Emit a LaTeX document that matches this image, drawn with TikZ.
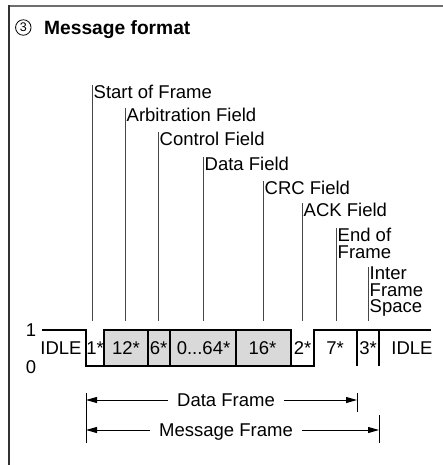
\documentclass[tikz,border=0pt]{standalone}
\usepackage{fontspec}
\setmainfont{Liberation Sans}
\usetikzlibrary{arrows.meta}
\begin{document}
\begin{tikzpicture}[x=1pt, y=-1pt,
    leader/.style={draw=myleader, line width=1pt},
    fieldlbl/.style={anchor=north west, inner xsep=1.5pt, inner ysep=0pt, align=left,
        font=\fontsize{18.5}{16.5}\selectfont},
    bitlbl/.style={inner sep=0pt, text height=13.2pt, text depth=0pt,
        font=\fontsize{18.5}{18.5}\selectfont},
    sig/.style={line width=1.3pt},
    spanarrow/.style={-{Triangle[length=11pt,width=6pt]}, line width=1pt},
    framelbl/.style={inner xsep=9pt, text height=13.2pt, text depth=0pt,
        font=\fontsize{18.5}{18.5}\selectfont}]
    \definecolor{myleader}{RGB}{70,70,70}
    \definecolor{mytop}{RGB}{110,110,110}
    \definecolor{myside}{RGB}{50,50,50}
    \definecolor{myfield}{RGB}{217,217,217}

    \useasboundingbox (0,0) rectangle (443,465);

    % frame
    \draw[mytop, line width=2pt] (9,6) -- (443,6);
    \draw[myside, line width=1.6pt] (9,5) -- (9,465);

    % title
    \node[circle, draw, line width=0.8pt, minimum size=15.5pt, inner sep=0pt,
        font=\fontsize{12.5}{12.5}\selectfont] (num) at (23.3,27.5) {3};
    \node[anchor=base west, inner sep=0pt, font=\bfseries\fontsize{19.2}{19.2}\selectfont]
        (title) at (44,34.3) {Message format};

    % field names
    \coordinate (base) at (0,321);
    \node[fieldlbl] (sof) at (92,85) {Start of Frame};
    \node[fieldlbl] (arb) at (125,108) {Arbitration Field};
    \node[fieldlbl] (ctl) at (158,132) {Control Field};
    \node[fieldlbl] (dat) at (203,157) {Data Field};
    \node[fieldlbl] (crc) at (263,181) {CRC Field};
    \node[fieldlbl] (ack) at (302,203) {ACK Field};
    \node[fieldlbl] (eof) at (336,228) {End of\\Frame};
    \node[fieldlbl] (ifs) at (368,267) {Inter\\Frame\\Space};

    \draw[leader] (sof.north west) -- (sof.north west |- base);
    \draw[leader] (arb.north west) -- (arb.north west |- base);
    \draw[leader] (ctl.north west) -- (ctl.north west |- base);
    \draw[leader] (dat.north west) -- (dat.north west |- base);
    \draw[leader] (crc.north west) -- (crc.north west |- base);
    \draw[leader] (ack.north west) -- (ack.north west |- base);
    \draw[leader] (eof.north west) -- (eof.north west |- base);
    \draw[leader] (ifs.north west) -- (ifs.north west |- base);

    % bit stream
    \filldraw[sig, fill=myfield] (104,330) rectangle (291,366);
    \draw[sig] (42,330) -- (86,330) -- (86,366) -- (314,366) -- (314,330) -- (431,330);
    \draw[sig] (148,330) -- (148,366);
    \draw[sig] (170,330) -- (170,366);
    \draw[sig] (236,330) -- (236,366);
    \draw[sig] (357,330) -- (357,366);
    \draw[sig] (379,330) -- (379,366);

    \node[bitlbl] (one) at (31,330) {1};
    \node[bitlbl] (zero) at (31,367) {0};
    \node[bitlbl] (idlea) at (61,348) {IDLE};
    \node[bitlbl] (bsof) at (95,348) {1*};
    \node[bitlbl] (barb) at (126,348) {12*};
    \node[bitlbl] (bctl) at (158.5,348) {6*};
    \node[bitlbl] (bdat) at (203.5,348) {0...64*};
    \node[bitlbl] (bcrc) at (262.5,348) {16*};
    \node[bitlbl] (back) at (302.5,348) {2*};
    \node[bitlbl] (beof) at (335,348) {7*};
    \node[bitlbl] (bifs) at (368,348) {3*};
    \node[bitlbl] (idleb) at (412,348) {IDLE};

    % frame spans
    \draw[line width=1pt] (86,393) -- (86,443);
    \draw[line width=1pt] (357,393) -- (357,412);
    \draw[line width=1pt] (379,415) -- (379,443);

    \coordinate (dfl) at (86,400);
    \coordinate (dfr) at (357,400);
    \coordinate (mfl) at (86,430);
    \coordinate (mfr) at (379,430);
    \node[framelbl] (df) at (226,400) {Data Frame};
    \node[framelbl] (mf) at (226,430) {Message Frame};
    \draw[spanarrow] (df) -- (dfl);
    \draw[spanarrow] (df) -- (dfr);
    \draw[spanarrow] (mf) -- (mfl);
    \draw[spanarrow] (mf) -- (mfr);
\end{tikzpicture}
\end{document}
